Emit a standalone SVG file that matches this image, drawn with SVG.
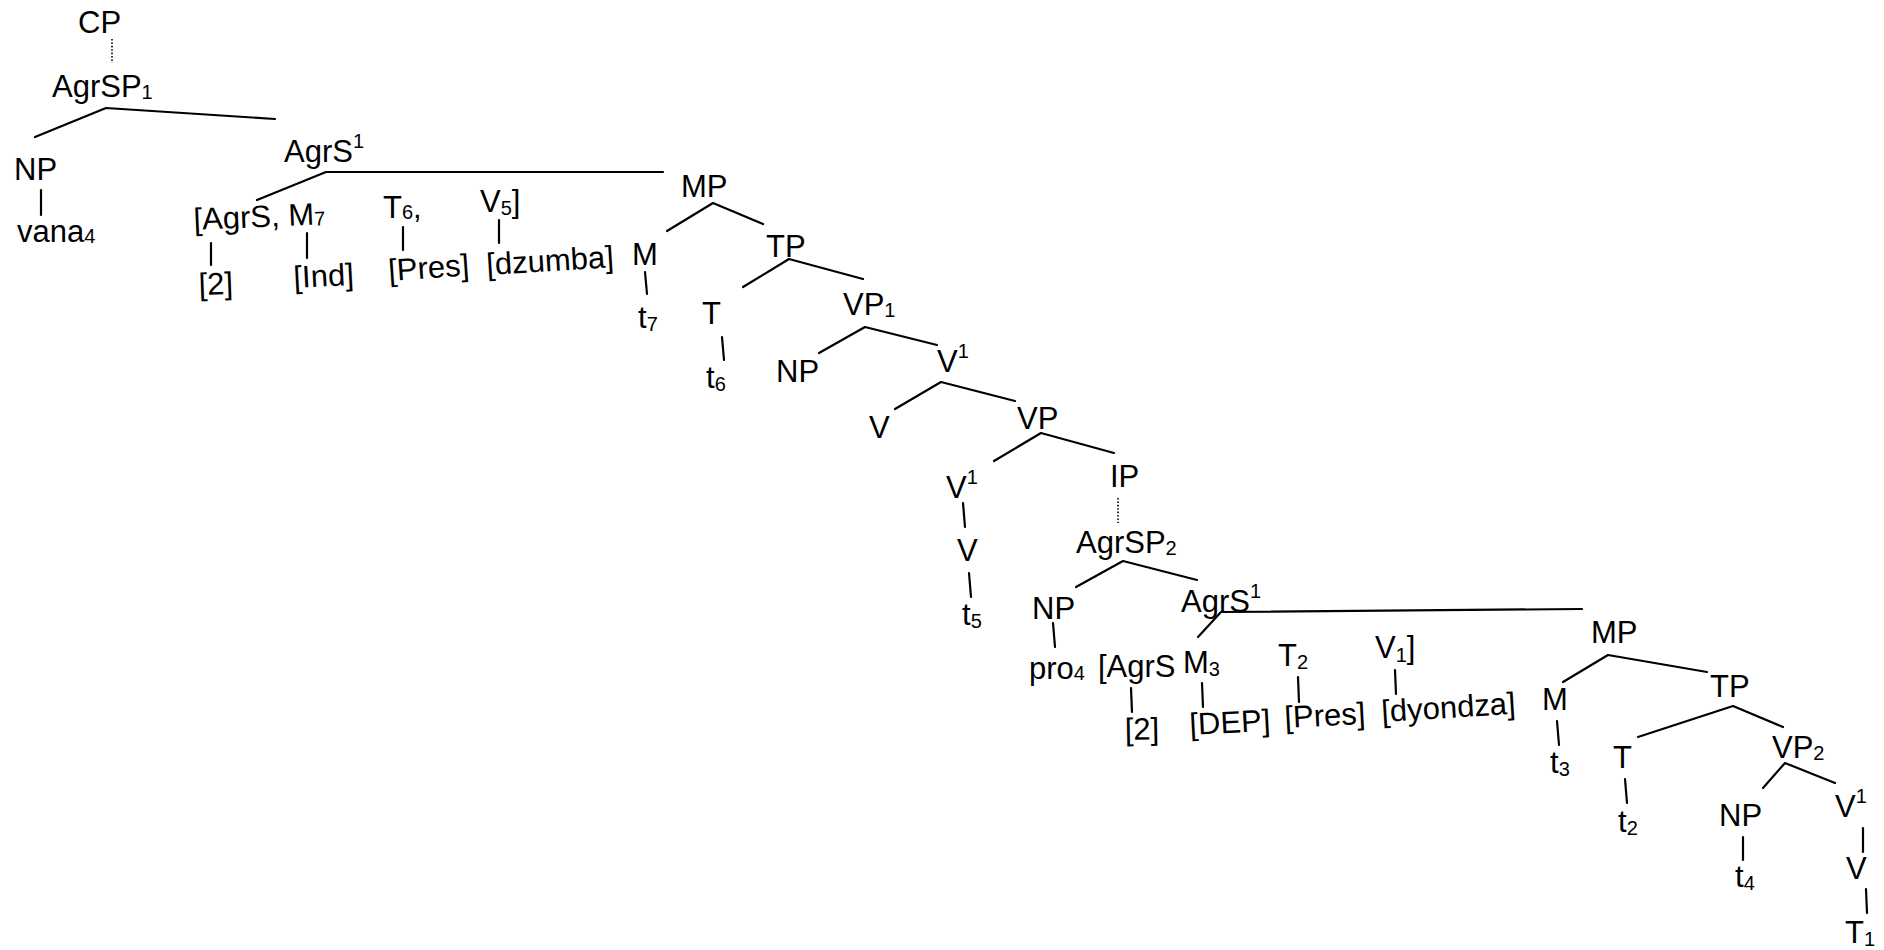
<svg xmlns="http://www.w3.org/2000/svg" width="1884" height="950" viewBox="0 0 1884 950">
<style>
text{font-family:"Liberation Sans",Arial,Helvetica,sans-serif;font-size:31px;fill:#000}
.s{font-size:20px}
.e{stroke:#000;stroke-width:2.2;fill:none;stroke-linecap:round;stroke-linejoin:round}
.d{stroke:#000;stroke-width:1.6;fill:none;stroke-dasharray:1.6 1.8}
</style>
<rect width="1884" height="950" fill="#fff"/>
<g id="connectors">
<path class="d" d="M112 39V63"/>
<path class="e" d="M35 137L106 108L275 119"/>
<path class="e" d="M41 190V215"/>
<path class="e" d="M257 200L326 172L663 172"/>
<path class="e" d="M211 243V265"/>
<path class="e" d="M307 233V258"/>
<path class="e" d="M403 227V250"/>
<path class="e" d="M499 220V243"/>
<path class="e" d="M667 231L713 203L763 224"/>
<path class="e" d="M645 272L647 294"/>
<path class="e" d="M743 287L789 259L863 279"/>
<path class="e" d="M722 337L724 360"/>
<path class="e" d="M819 353L865 327L937 345"/>
<path class="e" d="M895 409L941 382L1015 401"/>
<path class="e" d="M994 461L1041 433L1114 453"/>
<path class="e" d="M963 503L965 527"/>
<path class="e" d="M969 573L971 597"/>
<path class="d" d="M1118 498V523"/>
<path class="e" d="M1076 587L1123 561L1197 580"/>
<path class="e" d="M1053 623L1055 647"/>
<path class="e" d="M1198 637L1221 612L1582 609"/>
<path class="e" d="M1131 688L1132 712"/>
<path class="e" d="M1202 683L1203 707"/>
<path class="e" d="M1298 677L1299 702"/>
<path class="e" d="M1395 670L1396 694"/>
<path class="e" d="M1563 682L1608 655L1707 672"/>
<path class="e" d="M1557 721L1559 745"/>
<path class="e" d="M1638 737L1733 706L1783 727"/>
<path class="e" d="M1625 779L1627 803"/>
<path class="e" d="M1763 788L1785 763L1835 783"/>
<path class="e" d="M1743 837V860"/>
<path class="e" d="M1863 828V852"/>
<path class="e" d="M1866 889L1867 913"/>
</g>
<g id="n-CP"><text x="78" y="33">CP</text></g>
<g id="n-AgrSP1"><text x="52" y="97">AgrSP<tspan class="s" dy="2">1</tspan></text></g>
<g id="n-NP1"><text x="14" y="180">NP</text></g>
<g id="n-vana"><text x="17" y="242">vana<tspan class="s" dy="1">4</tspan></text></g>
<g id="n-AgrSbar1"><text x="284" y="162">AgrS<tspan class="s" dy="-14">1</tspan></text></g>
<g id="n-feat1"><text x="194" y="230" transform="rotate(-2.5 194 230)">[AgrS, M<tspan class="s" dy="1">7</tspan></text></g>
<g id="n-T6"><text x="383" y="218">T<tspan class="s" dy="1">6</tspan><tspan dy="-1">,</tspan></text></g>
<g id="n-V5"><text x="480" y="212">V<tspan class="s" dy="3">5</tspan><tspan dy="-3">]</tspan></text></g>
<g id="n-2a"><text x="199" y="295" transform="rotate(-2 199 295)">[2]</text></g>
<g id="n-Ind"><text x="294" y="288" transform="rotate(-3 294 288)">[Ind]</text></g>
<g id="n-Pres1"><text x="389" y="281" transform="rotate(-4 389 281)">[Pres]</text></g>
<g id="n-dzumba"><text x="487" y="275" transform="rotate(-3.5 487 275)">[dzumba]</text></g>
<g id="n-MP1"><text x="681" y="197">MP</text></g>
<g id="n-M1"><text x="632" y="265">M</text></g>
<g id="n-t7"><text x="638" y="328">t<tspan class="s" dy="3">7</tspan></text></g>
<g id="n-TP1"><text x="766" y="257">TP</text></g>
<g id="n-T1"><text x="702" y="324">T</text></g>
<g id="n-t6"><text x="706" y="388">t<tspan class="s" dy="3">6</tspan></text></g>
<g id="n-VP1"><text x="843" y="315">VP<tspan class="s" dy="2">1</tspan></text></g>
<g id="n-NP2"><text x="776" y="382">NP</text></g>
<g id="n-Vbar1"><text x="937" y="372">V<tspan class="s" dy="-14">1</tspan></text></g>
<g id="n-V1"><text x="869" y="438">V</text></g>
<g id="n-VP"><text x="1017" y="429">VP</text></g>
<g id="n-Vbar2"><text x="946" y="498">V<tspan class="s" dy="-14">1</tspan></text></g>
<g id="n-V2"><text x="957" y="561">V</text></g>
<g id="n-t5"><text x="962" y="625">t<tspan class="s" dy="3">5</tspan></text></g>
<g id="n-IP"><text x="1110" y="487">IP</text></g>
<g id="n-AgrSP2"><text x="1076" y="553">AgrSP<tspan class="s" dy="2">2</tspan></text></g>
<g id="n-NP3"><text x="1032" y="619">NP</text></g>
<g id="n-AgrSbar2"><text x="1181" y="612">AgrS<tspan class="s" dy="-14">1</tspan></text></g>
<g id="n-pro"><text x="1029" y="679">pro<tspan class="s" dy="1">4</tspan></text></g>
<g id="n-feat2"><text x="1098" y="677">[AgrS</text></g>
<g id="n-M3"><text x="1183" y="673">M<tspan class="s" dy="3">3</tspan></text></g>
<g id="n-T2"><text x="1278" y="666">T<tspan class="s" dy="3">2</tspan></text></g>
<g id="n-V1b"><text x="1375" y="658">V<tspan class="s" dy="4">1</tspan><tspan dy="-4">]</tspan></text></g>
<g id="n-2b"><text x="1125" y="740" transform="rotate(-1 1125 740)">[2]</text></g>
<g id="n-DEP"><text x="1190" y="735" transform="rotate(-3 1190 735)">[DEP]</text></g>
<g id="n-Pres2"><text x="1285" y="728" transform="rotate(-3 1285 728)">[Pres]</text></g>
<g id="n-dyondza"><text x="1382" y="722" transform="rotate(-3.5 1382 722)">[dyondza]</text></g>
<g id="n-MP2"><text x="1591" y="643">MP</text></g>
<g id="n-M2"><text x="1542" y="710">M</text></g>
<g id="n-t3"><text x="1550" y="773">t<tspan class="s" dy="3">3</tspan></text></g>
<g id="n-TP2"><text x="1710" y="697">TP</text></g>
<g id="n-T3"><text x="1613" y="768">T</text></g>
<g id="n-t2"><text x="1618" y="832">t<tspan class="s" dy="3">2</tspan></text></g>
<g id="n-VP2"><text x="1772" y="758">VP<tspan class="s" dy="2">2</tspan></text></g>
<g id="n-NP4"><text x="1719" y="826">NP</text></g>
<g id="n-t4"><text x="1735" y="887">t<tspan class="s" dy="3">4</tspan></text></g>
<g id="n-Vbar3"><text x="1835" y="817">V<tspan class="s" dy="-14">1</tspan></text></g>
<g id="n-V3"><text x="1846" y="879">V</text></g>
<g id="n-T1sub"><text x="1845" y="943">T<tspan class="s" dy="3">1</tspan></text></g>
</svg>
